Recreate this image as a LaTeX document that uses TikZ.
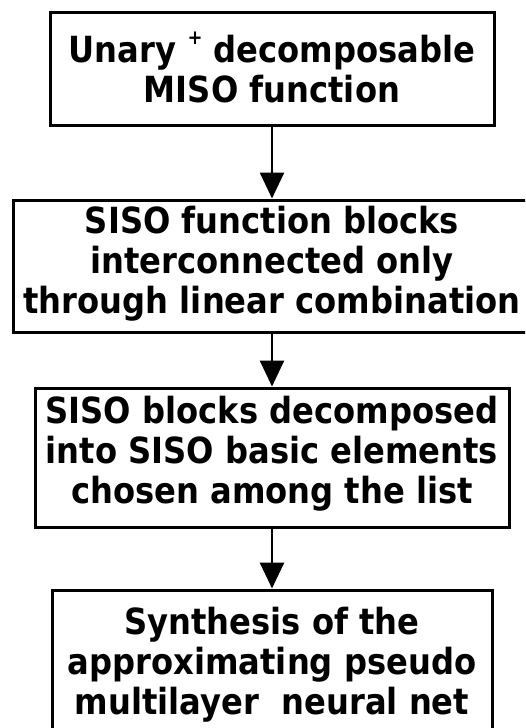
\documentclass[tikz,border=0pt]{standalone}
\usepackage{fontspec}
\setmainfont[FakeStretch=0.894]{DejaVu Sans}
\usetikzlibrary{arrows.meta}
\begin{document}
\begin{tikzpicture}[x=1pt,y=-1pt,
  box/.style={draw=black, line width=3pt, rectangle, inner sep=0pt},
  txt/.style={align=center, inner sep=0pt, font=\bfseries\fontsize{36}{40}\selectfont},
  flow/.style={draw=black, line width=2.6pt, -{Triangle[width=24pt,length=26pt]}}]
\useasboundingbox (0,0) rectangle (525,728);
\clip (0,0) rectangle (525,728);

% the four stages (shared vertical axis)
\node[box, minimum width=444pt, minimum height=113pt] (b1) at (272,68.5) {};
\node[box, minimum width=518pt, minimum height=132pt] (b2) at (272,266) {};
\node[box, minimum width=474pt, minimum height=139pt] (b3) at (272,457.5) {};
\node[box, minimum width=440pt, minimum height=160pt] (b4) at (272,670) {};

% stage texts (yshift is measured upwards)
\node[txt] (t1) at ([yshift=1pt]b1.center) {Unary \raisebox{0.5em}{\fontsize{20}{20}\selectfont +} decomposable\\MISO function};
\node[txt] (t2) at ([yshift=2pt]b2.center) {SISO function blocks\\interconnected only\\through linear combination};
\node[txt] (t3) at ([yshift=4pt]b3.center) {SISO blocks decomposed\\into SISO basic elements\\chosen among the list};
\node[txt] (t4) at ([yshift=5pt]b4.center) {Synthesis of the\\approximating pseudo\\multilayer\ \ neural net};

% connectors
\draw[flow] (b1.south) -- (b2.north);
\draw[flow] (b2.south) -- (b3.north);
\draw[flow] (b3.south) -- (b4.north);
\end{tikzpicture}
\end{document}
